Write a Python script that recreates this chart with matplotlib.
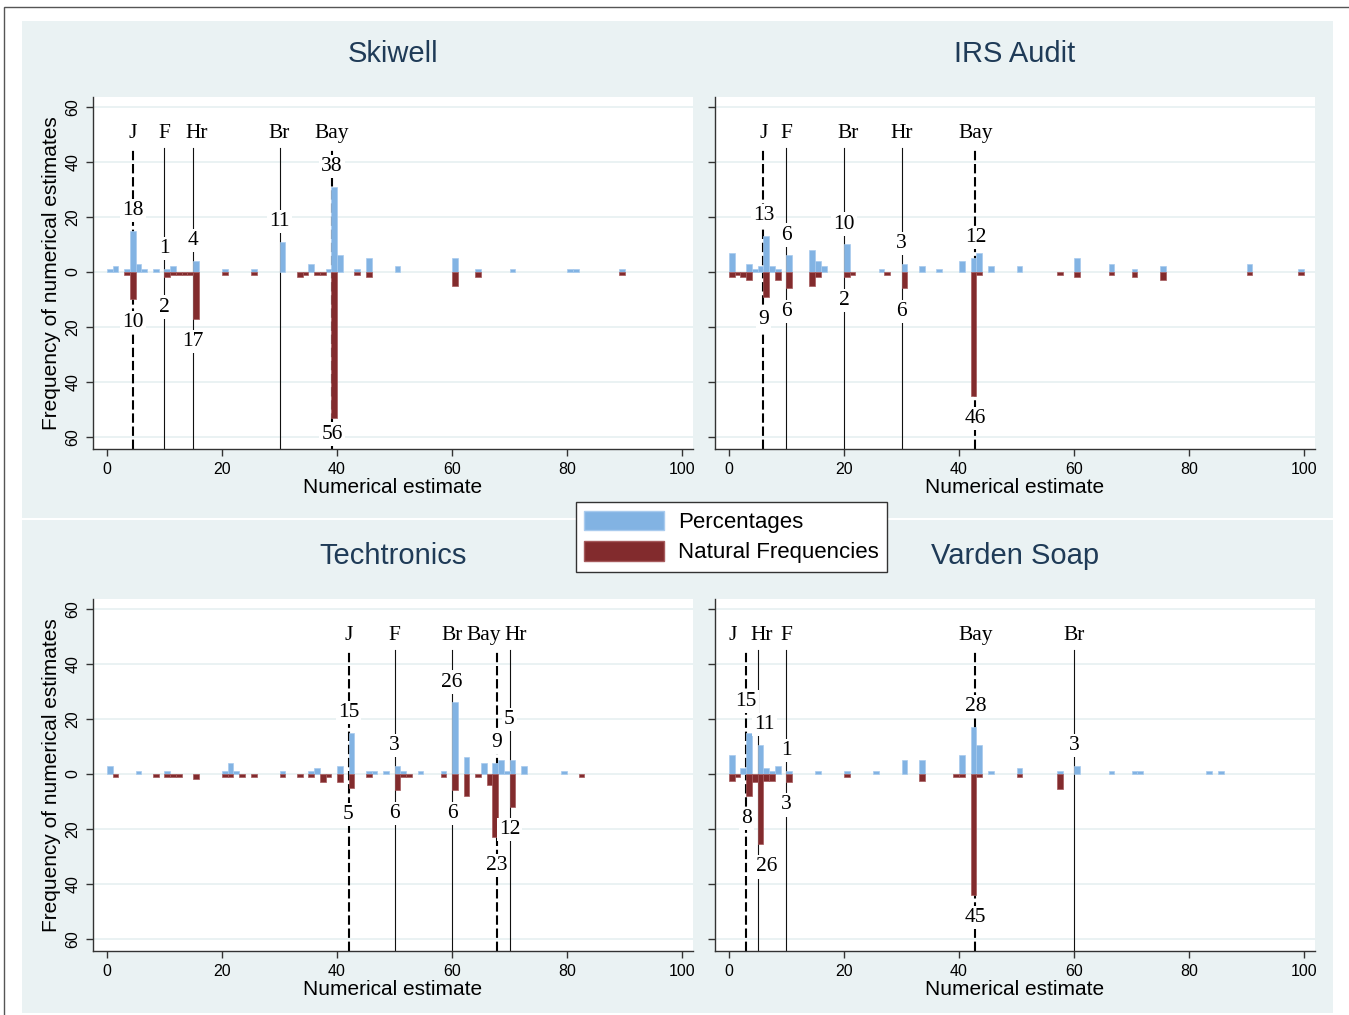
import numpy as np
import matplotlib.pyplot as plt
from matplotlib.patches import Patch, Rectangle
from matplotlib.lines import Line2D

plt.rcParams['font.family'] = ['Liberation Sans', 'DejaVu Sans']

W, H = 1349, 1015
BLUE = '#82B3E3'
RED = '#822B2D'
BG = '#EAF2F3'
SERIF = ['Liberation Serif', 'DejaVu Serif']

# ---- data: histogram bins (left edge) and heights ----
skiwell_pct_x = [0, 1, 3, 4, 5, 6, 8, 10, 11, 15, 20, 25, 30, 35, 38, 39, 40, 43, 45, 50, 60, 64, 70, 80, 81, 89]
skiwell_pct_h = [1, 2, 1, 15, 3, 1, 1, 1, 2, 4, 1, 1, 11, 3, 1, 31, 6, 1, 5, 2, 5, 1, 1, 1, 1, 1]
skiwell_nat_x = [3, 4, 10, 11, 12, 13, 14, 15, 20, 25, 33, 34, 36, 37, 39, 43, 45, 60, 64, 89]
skiwell_nat_h = [1, 10, 2, 1, 1, 1, 1, 17, 1, 1, 2, 1, 1, 1, 53, 1, 2, 5, 2, 1]
skiwell_names = ['J', 'F', 'Hr', 'Br', 'Bay']
skiwell_vals = [4.5, 10, 15, 30, 39.13]
skiwell_top = ['18', '1', '4', '11', '38']
skiwell_bot = ['10', '2', '17', '', '56']

irs_pct_x = [0, 3, 4, 5, 6, 7, 8, 10, 14, 15, 16, 20, 26, 30, 33, 36, 40, 42, 43, 45, 50, 60, 66, 70, 75, 90, 99]
irs_pct_h = [7, 3, 1, 2, 13, 2, 1, 6, 8, 4, 2, 10, 1, 3, 2, 1, 4, 5, 7, 2, 2, 5, 3, 1, 2, 3, 1]
irs_nat_x = [0, 1, 2, 3, 6, 8, 10, 14, 15, 20, 21, 27, 30, 42, 43, 57, 60, 66, 70, 75, 90, 99]
irs_nat_h = [2, 1, 2, 3, 9, 3, 6, 5, 2, 2, 1, 1, 6, 45, 1, 1, 2, 1, 2, 3, 1, 1]
irs_names = ['J', 'F', 'Br', 'Hr', 'Bay']
irs_vals = [6, 10, 20, 30, 42.86]
irs_top = ['13', '6', '10', '3', '12']
irs_bot = ['9', '6', '2', '6', '46']

tech_pct_x = [0, 5, 10, 20, 21, 22, 30, 35, 36, 40, 42, 45, 46, 48, 50, 51, 54, 58, 60, 62, 65, 67, 68, 69, 70, 72, 79]
tech_pct_h = [3, 1, 1, 1, 4, 1, 1, 1, 2, 3, 15, 1, 1, 1, 3, 1, 1, 1, 26, 6, 4, 4, 5, 1, 5, 3, 1]
tech_nat_x = [1, 8, 10, 11, 12, 15, 20, 21, 23, 25, 30, 33, 35, 37, 38, 40, 42, 45, 50, 51, 52, 58, 60, 62, 64, 66, 67, 70, 82]
tech_nat_h = [1, 1, 1, 1, 1, 2, 1, 1, 1, 1, 1, 1, 1, 3, 1, 3, 5, 1, 6, 1, 1, 1, 6, 8, 1, 4, 23, 12, 1]
tech_names = ['J', 'F', 'Br', 'Bay', 'Hr']
tech_vals = [42, 50, 60, 67.74, 70]
tech_top = ['15', '3', '26', '9', '5']
tech_bot = ['5', '6', '6', '23', '12']

varden_pct_x = [0, 2, 3, 5, 6, 7, 8, 10, 15, 20, 25, 30, 33, 40, 42, 43, 45, 50, 57, 60, 66, 70, 71, 83, 85]
varden_pct_h = [7, 2, 15, 10.5, 2, 1, 3, 1, 1, 1, 1, 5, 5, 7, 17, 10.5, 1, 2, 1, 3, 1, 1, 1, 1, 1]
varden_nat_x = [0, 1, 3, 4, 5, 6, 7, 10, 20, 33, 39, 40, 42, 43, 50, 57]
varden_nat_h = [2.5, 1, 8, 3, 25.5, 2.5, 2.5, 3, 1, 2.5, 1, 1, 44, 1, 1.3, 5.5]
varden_names = ['J', 'Hr', 'F', 'Bay', 'Br']
varden_vals = [3, 5, 10, 42.86, 60]
varden_top = ['15', '11', '1', '28', '3']
varden_bot = ['8', '26', '3', '45', '']

panels = [
    ('Skiwell', (93, 97), skiwell_pct_x, skiwell_pct_h, skiwell_nat_x, skiwell_nat_h,
     skiwell_names, skiwell_vals, skiwell_top, skiwell_bot, True),
    ('IRS Audit', (715, 97), irs_pct_x, irs_pct_h, irs_nat_x, irs_nat_h,
     irs_names, irs_vals, irs_top, irs_bot, False),
    ('Techtronics', (93, 599), tech_pct_x, tech_pct_h, tech_nat_x, tech_nat_h,
     tech_names, tech_vals, tech_top, tech_bot, True),
    ('Varden Soap', (715, 599), varden_pct_x, varden_pct_h, varden_nat_x, varden_nat_h,
     varden_names, varden_vals, varden_top, varden_bot, False),
]

# small manual nudges (dx, dy) for labels that would collide
name_nudge = {('Techtronics', 'Bay'): (-2.3, 0), ('Techtronics', 'Hr'): (1.0, 0),
              ('Varden Soap', 'J'): (-2.3, 0), ('Varden Soap', 'Hr'): (0.7, 0),
              ('Skiwell', 'Hr'): (0.6, 0), ('IRS Audit', 'Br'): (0.8, 0)}
top_nudge = {('Techtronics', 'Hr'): (0, 7.5), ('Varden Soap', 'J'): (0, 4),
             ('Varden Soap', 'Hr'): (1.2, 0)}
bot_nudge = {('Varden Soap', 'Hr'): (1.6, 0), ('Techtronics', 'Bay'): (0, -2),
             ('Techtronics', 'J'): (0, -1.5), ('Skiwell', 'F'): (0, -2.5)}

fig = plt.figure(figsize=(W / 100, H / 100), dpi=100)
fig.patches.append(Rectangle((4 / W, -0.05), 1.1, 1.05 - 7 / H, transform=fig.transFigure,
                             fill=False, edgecolor='#555555', lw=1, zorder=-6))
fig.patches.append(Rectangle((22 / W, 2 / H), 1311 / W, 992 / H, transform=fig.transFigure,
                             facecolor=BG, edgecolor='none', zorder=-5))
fig.lines.append(Line2D([22 / W, 1333 / W], [1 - 519 / H, 1 - 519 / H], transform=fig.transFigure,
                        color='white', lw=1.5, zorder=-4))

XL = (-2.43, 101.9)
YL = (-64.4, 63.6)

for (title, (x0, y0), px, ph, nx, nh, names, vals, tops, bots, left) in panels:
    ax = fig.add_axes([x0 / W, 1 - (y0 + 352) / H, 600 / W, 352 / H])
    ax.set_facecolor('white')
    ax.set_xlim(*XL)
    ax.set_ylim(*YL)

    ax.bar(px, ph, width=1, align='edge', color=BLUE, edgecolor='#A9CBEE', lw=0.5, zorder=3)
    ax.bar(nx, [-v for v in nh], width=1, align='edge', color=RED, edgecolor='#A65A5C', lw=0.5, zorder=3)

    pct = dict(zip(px, ph))
    nat = dict(zip(nx, nh))
    for name, v, t, b in zip(names, vals, tops, bots):
        if name in ('J', 'Bay'):
            ax.plot([v, v], [YL[0], 45], color='black', lw=1.5, dashes=(4.5, 1.8), zorder=2)
        else:
            ax.plot([v, v], [YL[0], 45], color='#111111', lw=0.8, zorder=2)
        dx, dy = name_nudge.get((title, name), (0, 0))
        ax.text(v + dx, 50.5 + dy, name, ha='center', va='center', family=SERIF, fontsize=15.5, zorder=5)
        k = int(np.floor(v))
        if t:
            dx, dy = top_nudge.get((title, name), (0, 0))
            ax.text(v + dx, pct.get(k, 0) + 7.4 + dy, t, ha='center', va='center', family=SERIF,
                    fontsize=15.5, zorder=5,
                    bbox=dict(facecolor='white', edgecolor='none', pad=1.5))
        if b:
            dx, dy = bot_nudge.get((title, name), (0, 0))
            yb = max(-(nat.get(k, 0) + 8.3) + dy, -59)
            ax.text(v + dx, yb, b, ha='center', va='center', family=SERIF,
                    fontsize=15.5, zorder=5,
                    bbox=dict(facecolor='white', edgecolor='none', pad=1.5))

    yt = [-60, -40, -20, 0, 20, 40, 60]
    ax.set_yticks(yt)
    ax.set_yticklabels([str(abs(v)) for v in yt], rotation=90, va='center')
    ax.set_xticks([0, 20, 40, 60, 80, 100])
    ax.tick_params(axis='both', labelsize=11.5, length=5, width=1, color='#333333')
    ax.tick_params(axis='y', pad=4, labelleft=left)
    ax.tick_params(axis='x', pad=4)
    ax.yaxis.grid(True, color=BG, lw=1.4)
    ax.set_axisbelow(True)
    for s in ('top', 'right'):
        ax.spines[s].set_visible(False)
    for s in ('left', 'bottom'):
        ax.spines[s].set_color('#333333')
        ax.spines[s].set_linewidth(1)
    ax.set_xlabel('Numerical estimate', fontsize=15, labelpad=1)
    if left:
        ax.set_ylabel('Frequency of numerical estimates', fontsize=15, labelpad=3)

    fig.text((x0 + 300) / W, 1 - (y0 - 43) / H, title, ha='center', va='center',
             fontsize=21, color='#1F3B57')

leg = fig.legend(handles=[Patch(facecolor=BLUE, edgecolor='#A9CBEE'),
                          Patch(facecolor=RED, edgecolor='#A65A5C')],
                 labels=['Percentages', 'Natural Frequencies'],
                 loc='center', bbox_to_anchor=(731.5 / W, 1 - 537 / H),
                 fontsize=16, frameon=True, fancybox=False, framealpha=1,
                 edgecolor='#333333', handlelength=3.6, handleheight=1.0,
                 handletextpad=0.6, labelspacing=0.35, borderpad=0.4)
leg.get_frame().set_linewidth(1)

fig.savefig('out.png', dpi=100)
